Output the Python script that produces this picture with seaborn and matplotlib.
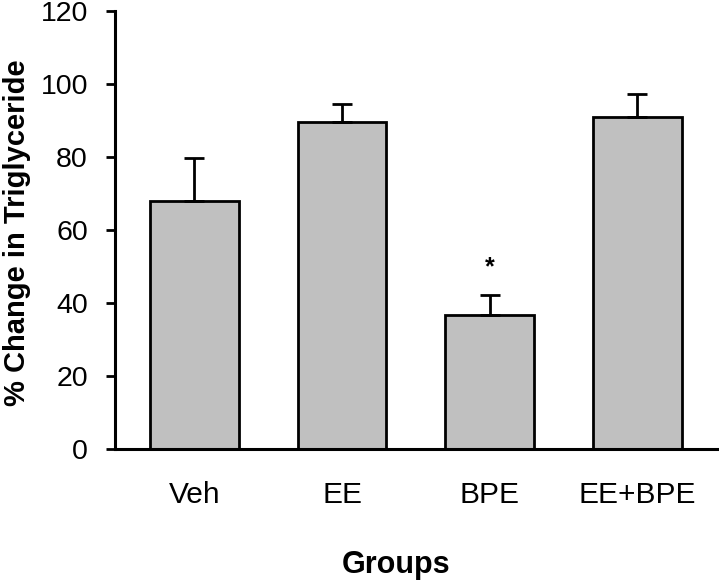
import matplotlib
matplotlib.use('Agg')
import matplotlib.pyplot as plt
import seaborn as sns
import pandas as pd

groups = ['Veh', 'EE', 'BPE', 'EE+BPE']
change = [68, 89.5, 36.7, 91]
sem = [11.7, 5, 5.5, 6.3]
signif = ['', '', '*', '']

sns.set_style('ticks')
plt.rcParams['font.family'] = ['Liberation Sans', 'DejaVu Sans']
plt.rcParams['text.color'] = 'black'
plt.rcParams['axes.labelcolor'] = 'black'

df = pd.DataFrame({'group': groups, 'change': change})

fig = plt.figure(figsize=(7.19, 5.82), dpi=100)
ax = fig.add_axes([0.160, 0.2285, 0.840, 0.7526])

sns.barplot(data=df, x='group', y='change', color='#c0c0c0', saturation=1,
            edgecolor='black', linewidth=2, width=0.6, ax=ax)

centers = [p.get_x() + p.get_width() / 2 for p in ax.patches]
ax.errorbar(centers, change, yerr=[[0] * len(sem), sem], fmt='none',
            ecolor='black', elinewidth=2, capsize=7, capthick=2)

for x, y, e, s in zip(centers, change, sem, signif):
    if s:
        ax.text(x, y + e + 7.5, s, ha='center', va='center', fontsize=18,
                fontweight='bold')

ax.set_ylim(0, 120)
ax.set_yticks(range(0, 121, 20))
ax.set_xlim(-0.537, 3.553)

sns.despine(ax=ax)
for s in ['left', 'bottom']:
    ax.spines[s].set_linewidth(2.2)
    ax.spines[s].set_color('black')

ax.tick_params(axis='y', length=6.5, width=2, pad=13, labelsize=20.5, colors='black')
ax.tick_params(axis='x', length=0, pad=23, labelsize=21.5, colors='black')

ax.set_xlabel('Groups', fontsize=22, fontweight='bold')
ax.xaxis.label.set_verticalalignment('baseline')
ax.xaxis.set_label_coords(0.466, -0.283)

ax.set_ylabel('% Change in Triglyceride', fontsize=21, fontweight='bold')
ax.yaxis.label.set_verticalalignment('center')
ax.yaxis.set_label_coords(-0.162, 0.493)

fig.savefig('out.png', dpi=100)
